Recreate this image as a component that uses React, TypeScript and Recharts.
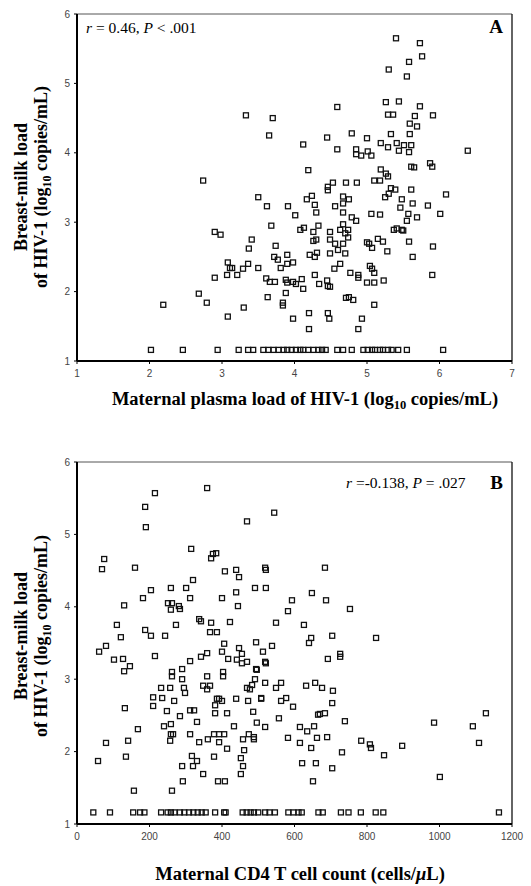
import React from 'react';
import { ReferenceLine, Scatter, ScatterChart, XAxis, YAxis } from 'recharts';

// axis ticks
const plasmaTicks = [1, 2, 3, 4, 5, 6, 7];
const cd4Ticks = [0, 200, 400, 600, 800, 1000, 1200];
const milkTicks = [1, 2, 3, 4, 5, 6];

// value used for samples below detection (the row of squares near the x axis)
const UNDETECTABLE = 1.16;

// panel A: maternal plasma load (log10) vs breast-milk load (log10)
const plasmaVsMilk: [number, number][] = [
  [5.40, 5.65], [5.73, 5.58], [5.76, 5.39], [5.58, 5.31], [5.30, 5.20], [5.55, 5.10],
  [4.59, 4.66], [5.26, 4.73], [5.44, 4.74], [5.73, 4.67],
  [3.33, 4.54], [3.70, 4.50], [5.29, 4.55], [5.36, 4.55], [5.66, 4.53], [5.91, 4.54],
  [5.59, 4.42], [5.69, 4.38],
  [3.65, 4.25], [4.45, 4.22], [4.79, 4.28], [5.00, 4.21], [5.33, 4.27], [5.59, 4.27],
  [4.12, 4.12], [4.59, 4.05], [4.85, 4.05], [4.85, 3.98], [4.92, 3.96], [5.01, 4.02], [5.06, 3.96],
  [5.19, 4.14], [5.29, 4.08], [5.41, 4.14], [5.44, 4.03], [5.51, 4.11], [5.61, 4.11], [5.58, 4.01], [6.39, 4.03],
  [4.19, 3.75], [5.19, 3.76], [5.26, 3.70], [5.29, 3.66], [5.61, 3.80], [5.65, 3.79], [5.87, 3.85], [5.90, 3.80],
  [2.74, 3.60], [4.46, 3.51], [4.46, 3.46], [4.53, 3.57], [4.71, 3.57], [4.86, 3.57], [5.10, 3.60], [5.18, 3.60],
  [5.33, 3.49], [5.39, 3.47], [5.30, 3.41], [5.61, 3.47], [6.09, 3.40],
  [3.50, 3.36], [4.24, 3.38], [4.17, 3.33], [4.67, 3.37], [4.75, 3.33], [5.25, 3.36], [5.48, 3.33],
  [3.62, 3.23], [3.91, 3.23], [4.28, 3.25], [4.30, 3.14], [4.56, 3.23], [4.67, 3.27], [4.67, 3.14],
  [4.01, 3.10], [5.06, 3.12], [5.18, 3.11], [5.46, 3.21], [5.63, 3.27], [5.84, 3.24], [6.01, 3.12],
  [5.57, 3.12], [5.55, 3.02], [5.69, 3.07], [4.79, 3.07], [4.85, 3.02],
  [3.68, 2.95], [4.08, 2.89], [4.13, 2.92], [4.33, 2.95], [4.26, 2.86], [4.49, 2.86],
  [4.63, 2.89], [4.67, 2.97], [4.74, 2.89], [4.70, 2.84], [4.74, 2.78],
  [2.90, 2.86], [2.98, 2.82], [3.41, 2.75], [3.37, 2.62],
  [4.26, 2.73], [4.30, 2.75], [4.49, 2.75], [4.56, 2.69], [4.67, 2.69],
  [5.00, 2.71], [5.03, 2.69], [5.07, 2.63], [5.15, 2.76], [5.22, 2.72],
  [5.37, 2.89], [5.41, 2.91], [5.48, 2.89], [5.50, 2.88], [5.58, 2.72], [5.91, 2.65],
  [3.74, 2.66], [4.60, 2.60], [4.49, 2.55], [4.31, 2.56], [4.28, 2.50], [4.21, 2.53], [4.70, 2.55], [5.28, 2.58], [5.63, 2.50],
  [3.90, 2.53], [3.72, 2.50], [3.77, 2.46],
  [3.08, 2.42], [3.11, 2.34], [3.14, 2.34], [3.36, 2.40], [3.29, 2.33], [3.50, 2.34], [3.81, 2.34], [3.90, 2.40], [3.98, 2.42],
  [4.55, 2.33], [4.63, 2.40], [5.04, 2.37], [5.07, 2.33],
  [2.90, 2.20], [3.07, 2.24], [3.21, 2.24], [3.61, 2.19], [3.66, 2.14], [3.73, 2.14],
  [3.88, 2.17], [3.90, 2.13], [3.98, 2.14], [4.02, 2.11], [4.10, 2.18], [4.28, 2.24], [4.34, 2.11],
  [4.45, 2.16], [4.46, 2.08], [4.49, 2.07], [4.77, 2.27], [4.88, 2.24], [4.88, 2.20], [5.00, 2.13], [5.10, 2.13], [5.10, 2.27], [5.23, 2.16], [5.90, 2.24],
  [4.12, 2.04], [3.88, 1.98], [3.63, 1.92], [2.68, 1.97],
  [4.71, 1.91], [4.75, 1.92], [4.81, 1.88], [2.19, 1.81], [2.79, 1.84], [3.84, 1.84], [3.84, 1.80], [5.10, 1.81], [3.30, 1.77],
  [4.20, 1.69], [4.46, 1.69], [3.08, 1.64], [3.98, 1.61], [4.48, 1.61], [4.93, 1.61], [4.20, 1.46], [4.88, 1.46],
];

const plasmaUndetectable = [
  2.02, 2.46, 2.94, 3.23, 3.36, 3.43, 3.57, 3.64, 3.71, 3.78, 3.85, 3.90, 3.96, 4.02, 4.08, 4.12, 4.19,
  4.26, 4.33, 4.38, 4.43, 4.59, 4.67, 4.79, 4.95, 5.01, 5.07, 5.11, 5.18, 5.22, 5.29, 5.34, 5.43, 5.55, 6.05,
];

// panel B: maternal CD4 count (cells/uL) vs breast-milk load (log10)
const cd4VsMilk: [number, number][] = [
  [359, 5.64], [215, 5.57], [188, 5.38], [190, 5.10], [469, 5.18], [544, 5.30], [315, 4.80],
  [370, 4.67], [375, 4.73], [384, 4.74], [75, 4.66], [69, 4.52], [160, 4.54], [408, 4.49], [439, 4.51], [447, 4.41],
  [519, 4.54], [521, 4.51], [684, 4.54], [320, 4.37], [204, 4.23], [259, 4.26], [301, 4.26], [439, 4.20], [491, 4.26], [521, 4.26],
  [648, 4.19], [182, 4.12], [312, 4.12], [400, 4.12], [593, 4.09], [687, 4.09], [130, 4.02], [251, 4.05], [262, 4.05], [259, 3.96],
  [281, 4.01], [284, 3.97], [444, 4.01], [582, 3.94], [753, 3.97], [110, 3.75], [273, 3.75], [337, 3.83], [342, 3.80], [370, 3.78],
  [422, 3.79], [549, 3.78], [626, 3.75], [188, 3.68], [121, 3.58], [204, 3.60], [243, 3.60], [367, 3.65], [386, 3.65],
  [646, 3.57], [640, 3.50], [704, 3.60], [825, 3.57], [80, 3.46], [406, 3.49], [494, 3.51], [538, 3.46], [447, 3.43],
  [61, 3.38], [102, 3.27], [127, 3.28], [146, 3.18], [130, 3.11], [215, 3.32], [262, 3.10], [262, 3.04], [290, 3.14], [290, 3.00],
  [312, 3.25], [342, 3.31], [359, 3.36], [359, 3.04], [400, 3.38], [403, 3.10], [403, 3.04], [417, 3.28],
  [455, 3.35], [441, 3.27], [455, 3.22], [469, 3.24], [513, 3.38], [519, 3.24], [521, 3.22], [494, 3.14], [496, 3.13], [491, 3.00],
  [692, 3.28], [726, 3.35], [726, 3.31],
  [232, 2.88], [257, 2.88], [295, 2.88], [298, 2.81], [210, 2.75], [210, 2.63], [235, 2.74], [268, 2.70], [248, 2.56], [284, 2.49],
  [312, 2.57], [323, 2.57], [331, 2.41], [348, 2.91], [367, 2.91], [359, 2.86], [381, 2.64], [386, 2.73], [392, 2.73], [400, 2.70],
  [381, 2.53], [414, 2.53], [439, 2.73], [433, 2.35], [469, 2.88], [477, 2.86], [483, 2.92],
  [472, 2.70], [508, 2.74], [508, 2.73], [519, 2.95], [486, 2.55], [496, 2.40], [519, 2.34], [557, 2.46], [549, 2.88], [563, 2.95],
  [563, 2.70], [577, 2.74], [596, 2.62], [632, 2.91], [657, 2.95], [676, 2.88], [706, 2.84], [704, 2.67], [665, 2.51], [670, 2.52], [684, 2.53],
  [739, 2.42], [615, 2.34], [635, 2.28], [654, 2.35], [662, 2.19], [582, 2.19], [615, 2.12], [646, 2.05], [690, 2.20], [731, 1.99],
  [784, 2.15], [808, 2.10], [811, 2.05], [847, 1.95], [897, 2.08], [985, 2.40], [1092, 2.35], [1128, 2.53], [1109, 2.12], [1001, 1.65],
  [621, 1.84], [659, 1.84], [704, 1.77], [651, 1.59],
  [361, 2.17], [378, 2.24], [392, 2.24], [406, 2.24], [392, 2.13], [414, 2.04], [458, 2.17], [461, 2.02], [474, 2.24], [488, 2.20], [488, 2.17],
  [452, 1.91], [458, 1.80], [452, 1.69], [378, 1.93], [389, 1.59], [408, 1.59], [348, 1.69], [317, 1.94], [320, 1.80], [331, 1.87],
  [290, 1.80], [292, 1.59], [262, 1.46], [157, 1.46], [257, 2.15], [259, 2.24], [265, 2.24], [240, 2.35], [259, 2.38], [312, 2.24],
  [337, 2.13], [80, 2.12], [141, 2.15], [168, 2.31], [132, 2.60], [135, 1.93], [58, 1.87],
];

const cd4Undetectable = [
  45, 91, 155, 174, 186, 232, 250, 259, 269, 284, 296, 309, 321, 333, 344, 355, 381, 406, 410,
  457, 468, 479, 488, 500, 519, 531, 546, 583, 597, 611, 620, 666, 678, 728, 749, 783, 824, 845, 1164,
];

const SERIF = '"Liberation Serif", "Times New Roman", serif';
const SANS = '"Liberation Sans", Arial, sans-serif';

const tickStyle = { fontSize: 10, fill: '#444', fontFamily: SANS };

const HollowSquare = (props: any) => {
  const { cx, cy } = props;
  if (cx == null || cy == null) return null;
  return <rect x={cx - 2.5} y={cy - 2.5} width={5} height={5} fill="none" stroke="#111" strokeWidth={1.3} />;
};

function toPoints(pairs: [number, number][], floor: number[]) {
  return [...pairs.map(([x, y]) => ({ x, y })), ...floor.map((x) => ({ x, y: UNDETECTABLE }))];
}

interface PanelProps {
  data: { x: number; y: number }[];
  xTicks: number[];
  top: number;
  height: number;
  marginTop: number;
  marginBottom: number;
}

function Panel({ data, xTicks, top, height, marginTop, marginBottom }: PanelProps) {
  const xMax = xTicks[xTicks.length - 1];
  return (
    <div style={{ position: 'absolute', left: 0, top }}>
      <ScatterChart width={531} height={height} margin={{ top: marginTop, right: 19, bottom: marginBottom, left: 0 }}>
        <XAxis
          type="number"
          dataKey="x"
          domain={[xTicks[0], xMax]}
          ticks={xTicks}
          height={30}
          tick={tickStyle}
          tickSize={3}
          tickMargin={6}
          axisLine={{ stroke: '#000', strokeWidth: 2 }}
          tickLine={{ stroke: '#000' }}
        />
        <YAxis
          type="number"
          dataKey="y"
          domain={[1, 6]}
          ticks={milkTicks}
          width={77}
          tick={tickStyle}
          tickSize={3}
          tickMargin={4}
          axisLine={{ stroke: '#000', strokeWidth: 2 }}
          tickLine={{ stroke: '#000' }}
        />
        <ReferenceLine y={6} stroke="#555" strokeWidth={1} />
        <ReferenceLine x={xMax} stroke="#111" strokeWidth={1.3} />
        <Scatter data={data} shape={HollowSquare} isAnimationActive={false} />
      </ScatterChart>
    </div>
  );
}

function YLabel({ cy }: { cy: number }) {
  return (
    <g fontFamily={SERIF} fontWeight="bold" fontSize={18} fill="#000" textAnchor="middle">
      <text transform={`translate(27,${cy}) rotate(-90)`}>Breast-milk load</text>
      <text transform={`translate(47,${cy}) rotate(-90)`}>
        of HIV-1 (log
        <tspan fontSize={12} dy={4}>10</tspan>
        <tspan dy={-4}> copies/mL)</tspan>
      </text>
    </g>
  );
}

export default function App() {
  const dataA = toPoints(plasmaVsMilk, plasmaUndetectable);
  const dataB = toPoints(cd4VsMilk, cd4Undetectable);
  return (
    <div style={{ position: 'absolute', left: 0, top: 0, width: 531, height: 886, background: '#fff' }}>
      <Panel data={dataA} xTicks={plasmaTicks} top={0} height={420} marginTop={14} marginBottom={29} />
      <Panel data={dataB} xTicks={cd4Ticks} top={440} height={446} marginTop={22} marginBottom={32} />
      <svg width={531} height={886} style={{ position: 'absolute', left: 0, top: 0, pointerEvents: 'none' }}>
        <YLabel cy={187} />
        <YLabel cy={636} />
        <g fontFamily={SERIF} fontSize={15.5} fill="#000">
          <text x={86} y={33}>
            <tspan fontStyle="italic">r</tspan> = 0.46, <tspan fontStyle="italic">P</tspan> {'<'} .001
          </text>
          <text x={346} y={488}>
            <tspan fontStyle="italic">r</tspan> =-0.138, <tspan fontStyle="italic">P</tspan> = .027
          </text>
        </g>
        <g fontFamily={SERIF} fontWeight="bold" fontSize={19} fill="#000" textAnchor="end">
          <text x={503} y={33}>A</text>
          <text x={503} y={489}>B</text>
        </g>
        <g fontFamily={SERIF} fontWeight="bold" fontSize={18.5} fill="#000" textAnchor="middle">
          <text x={305} y={405}>
            Maternal plasma load of HIV-1 (log
            <tspan fontSize={12.5} dy={4}>10</tspan>
            <tspan dy={-4}> copies/mL)</tspan>
          </text>
          <text x={300} y={880}>
            Maternal CD4 T cell count (cells/<tspan fontStyle="italic">μ</tspan>L)
          </text>
        </g>
      </svg>
    </div>
  );
}
